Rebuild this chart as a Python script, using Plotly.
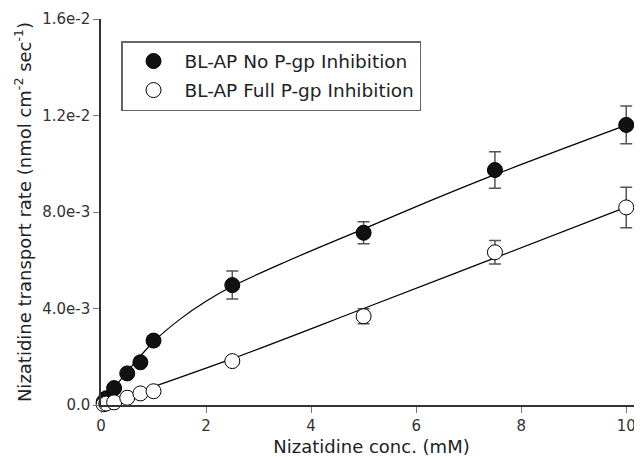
import plotly.graph_objects as go

# Measured data
conc = [0.05, 0.1, 0.25, 0.5, 0.75, 1.0, 2.5, 5.0, 7.5, 10.0]
rate_no_inh = [0.00012, 0.00028, 0.00070, 0.00131, 0.00177, 0.00267, 0.00497, 0.00714, 0.00974, 0.01161]
err_no_inh = [0.00005, 0.00008, 0.0001, 0.00012, 0.00015, 0.0002, 0.00058, 0.00046, 0.00076, 0.00078]
rate_full_inh = [0.00003, 0.00006, 0.00011, 0.00030, 0.00048, 0.00057, 0.00182, 0.00368, 0.00633, 0.00819]
err_full_inh = [0.00002, 0.00003, 0.00005, 0.00006, 0.00008, 0.0001, 0.0001, 0.00031, 0.00049, 0.00084]

# Fitted curves
fit_x_no_inh = [0, 0.5, 1.0, 1.5, 2.0, 2.5, 3.5, 5.0, 6.25, 7.5, 10.0]
fit_no_inh = [0, 0.00138, 0.00262, 0.00355, 0.00430, 0.00492, 0.00592, 0.00730, 0.00845, 0.00955, 0.01160]
fit_x_full_inh = [0, 2.5, 5.0, 7.5, 10.0]
fit_full_inh = [0, 0.00192, 0.00400, 0.00610, 0.00820]

y_tickvals = [0, 0.004, 0.008, 0.012, 0.016]
y_ticktext = ["0.0", "4.0e-3", "8.0e-3", "1.2e-2", "1.6e-2"]
x_tickvals = [0, 2, 4, 6, 8, 10]

FONT = "DejaVu Sans, Verdana, sans-serif"

fig = go.Figure()

fig.add_trace(go.Scatter(x=fit_x_no_inh, y=fit_no_inh, mode="lines",
                         line=dict(color="black", width=1.2, shape="spline"),
                         showlegend=False, hoverinfo="skip"))
fig.add_trace(go.Scatter(x=fit_x_full_inh, y=fit_full_inh, mode="lines",
                         line=dict(color="black", width=1.2, shape="spline"),
                         showlegend=False, hoverinfo="skip"))

fig.add_trace(go.Scatter(
    x=conc, y=rate_no_inh, mode="markers", name="BL-AP No P-gp Inhibition", legendgroup="a",
    marker=dict(symbol="circle", size=15, color="#111111", line=dict(color="black", width=1)),
    error_y=dict(type="data", array=err_no_inh, color="#555555", thickness=1.5, width=6),
    cliponaxis=False))
fig.add_trace(go.Scatter(
    x=conc, y=rate_full_inh, mode="markers", name="BL-AP Full P-gp Inhibition", legendgroup="b",
    marker=dict(symbol="circle", size=15, color="white", line=dict(color="black", width=1)),
    error_y=dict(type="data", array=err_full_inh, color="#555555", thickness=1.5, width=6),
    cliponaxis=False))

# page body has an 8px margin, so the figure is 8px smaller and shifted
fig.update_layout(
    width=634, height=449,
    margin=dict(l=93, r=0, t=11, b=52),
    plot_bgcolor="white", paper_bgcolor="white",
    font=dict(family=FONT, color="#222222", size=15),
    legend=dict(x=0.037, y=0.943, xanchor="left", yanchor="top",
                bordercolor="#666666", borderwidth=1.5, bgcolor="white",
                font=dict(size=18.5, family=FONT, color="#222222"),
                tracegroupgap=2, itemwidth=52),
    xaxis=dict(range=[0, 10.3], tickvals=x_tickvals, showgrid=False, zeroline=False,
               showline=True, linecolor="#333333", linewidth=1.5, automargin=False,
               ticks="outside", ticklen=6, tickcolor="#777777", tickwidth=1.2,
               tickfont=dict(size=15, color="#333333"),
               title=dict(text="Nizatidine conc. (mM)", font=dict(size=18, color="#222222"), standoff=12)),
    yaxis=dict(range=[0, 0.016], tickvals=y_tickvals, ticktext=y_ticktext, showgrid=False, zeroline=False,
               showline=True, linecolor="#333333", linewidth=1.5, automargin=False,
               ticks="outside", ticklen=6, tickcolor="#777777", tickwidth=1.2,
               tickfont=dict(size=15, color="#333333"),
               title=dict(text="Nizatidine transport rate (nmol cm<sup>-2</sup> sec<sup>-1</sup>)",
                          font=dict(size=18, color="#222222"), standoff=6)),
)

fig.write_html("out.html")
